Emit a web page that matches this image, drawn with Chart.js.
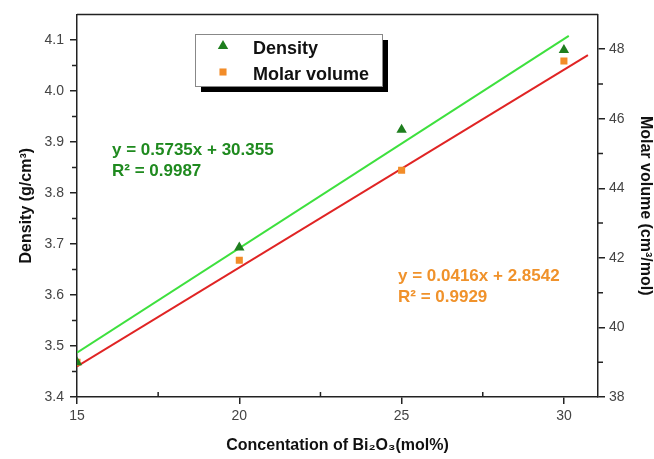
<!DOCTYPE html>
<html>
<head>
<meta charset="utf-8">
<script src="https://cdn.jsdelivr.net/npm/chart.js@4/dist/chart.umd.min.js"></script>
<style>
  html, body { margin: 0; padding: 0; background: #fff; }
</style>
</head>
<body>
<canvas id="chart" width="654" height="459"></canvas>
<script>
// 数据
var concentration = [15, 20, 25, 30];
var density = [3.468, 3.693, 3.924, 4.080];
var molarVolume = [39.0, 41.93, 44.52, 47.66];

// fit line end points
var densityFitX = [15, 30.15];
var densityFitY = [3.487, 4.108];
var molarFitX = [15, 30.74];
var molarFitY = [38.88, 47.83];

// ticks
var xTicks = [15, 20, 25, 30];
var xMinor = [17.5, 22.5, 27.5];
var densityTicks = [3.4, 3.5, 3.6, 3.7, 3.8, 3.9, 4.0, 4.1];
var densityMinor = [3.45, 3.55, 3.65, 3.75, 3.85, 3.95, 4.05];
var molarTicks = [38, 40, 42, 44, 46, 48];
var molarMinor = [39, 41, 43, 45, 47];

var legendLabels = ['Density', 'Molar volume'];
var greenEquation = ['y = 0.5735x + 30.355', 'R² = 0.9987'];
var orangeEquation = ['y = 0.0416x + 2.8542', 'R² = 0.9929'];

var FONT = "'Liberation Sans', Arial, Helvetica, sans-serif";
var AXIS = '#222';

function toXY(xs, ys) {
  return xs.map(function (x, i) { return { x: x, y: ys[i] }; });
}
function setTicks(list) {
  return function (scale) {
    scale.ticks = list.map(function (v) { return { value: v }; });
  };
}

// 额外绘制：上边框、次刻度、图例、公式
var extras = {
  id: 'extras',
  afterDraw: function (chart) {
    var ctx = chart.ctx;
    var area = chart.chartArea;
    var sx = chart.scales.x, sy = chart.scales.y, sy1 = chart.scales.y1;
    ctx.save();
    ctx.strokeStyle = AXIS;
    ctx.lineWidth = 1.5;
    // top border
    ctx.beginPath();
    ctx.moveTo(area.left, area.top);
    ctx.lineTo(area.right, area.top);
    ctx.stroke();
    // minor ticks
    ctx.beginPath();
    xMinor.forEach(function (v) {
      var px = sx.getPixelForValue(v);
      ctx.moveTo(px, area.bottom);
      ctx.lineTo(px, area.bottom - 5);
    });
    densityMinor.forEach(function (v) {
      var py = sy.getPixelForValue(v);
      ctx.moveTo(area.left, py);
      ctx.lineTo(area.left - 5, py);
    });
    molarMinor.forEach(function (v) {
      var py = sy1.getPixelForValue(v);
      ctx.moveTo(area.right, py);
      ctx.lineTo(area.right + 5, py);
    });
    ctx.stroke();

    // legend box with shadow
    var lx = 195, ly = 34, lw = 187, lh = 52;
    ctx.fillStyle = '#000';
    ctx.fillRect(lx + 6, ly + 6, lw, lh);
    ctx.fillStyle = '#fff';
    ctx.fillRect(lx, ly, lw, lh);
    ctx.strokeStyle = '#888';
    ctx.lineWidth = 1;
    ctx.strokeRect(lx + 0.5, ly + 0.5, lw, lh);

    var ds = chart.data.datasets;
    var rows = [ds[2], ds[3]];
    var rowY = [46, 72];
    rows.forEach(function (d, i) {
      ctx.fillStyle = d.backgroundColor;
      ctx.strokeStyle = d.borderColor;
      Chart.helpers.drawPoint(ctx, {
        pointStyle: d.pointStyle,
        radius: d.pointRadius,
        rotation: 0,
        borderWidth: 0
      }, 223, rowY[i]);
      ctx.fillStyle = '#111';
      ctx.font = 'bold 18px ' + FONT;
      ctx.textBaseline = 'alphabetic';
      ctx.textAlign = 'left';
      ctx.fillText(legendLabels[i], 253, rowY[i] + 8);
    });

    // equations
    ctx.font = 'bold 17px ' + FONT;
    ctx.fillStyle = '#1f8a1f';
    ctx.fillText(greenEquation[0], 112, 155);
    ctx.fillText(greenEquation[1], 112, 176);
    ctx.fillStyle = '#f0922b';
    ctx.fillText(orangeEquation[0], 398, 281);
    ctx.fillText(orangeEquation[1], 398, 302);
    ctx.restore();
  }
};

function createChart() {
  var ctx = document.getElementById('chart').getContext('2d');
  return new Chart(ctx, {
    type: 'scatter',
    data: {
      datasets: [
        {
          label: 'Density fit',
          data: toXY(densityFitX, densityFitY),
          yAxisID: 'y',
          showLine: true,
          borderColor: '#3ee03e',
          borderWidth: 2,
          pointRadius: 0,
          order: 3
        },
        {
          label: 'Molar volume fit',
          data: toXY(molarFitX, molarFitY),
          yAxisID: 'y1',
          showLine: true,
          borderColor: '#e02424',
          borderWidth: 2,
          pointRadius: 0,
          order: 2
        },
        {
          label: 'Density',
          data: toXY(concentration, density),
          yAxisID: 'y',
          pointStyle: 'triangle',
          pointRadius: 6,
          backgroundColor: '#1e7e1e',
          borderColor: '#1e7e1e',
          borderWidth: 0,
          order: 1
        },
        {
          label: 'Molar volume',
          data: toXY(concentration, molarVolume),
          yAxisID: 'y1',
          pointStyle: 'rect',
          pointRadius: 5,
          backgroundColor: '#f28c28',
          borderColor: '#f28c28',
          borderWidth: 0,
          order: 1
        }
      ]
    },
    options: {
      responsive: false,
      animation: false,
      devicePixelRatio: 1,
      layout: { padding: { top: 11, left: 0, right: 0, bottom: 0 } },
      plugins: { legend: { display: false }, tooltip: { enabled: false } },
      scales: {
        x: {
          type: 'linear',
          position: 'bottom',
          min: 15,
          max: 31.05,
          afterBuildTicks: setTicks(xTicks),
          afterFit: function (s) { s.height = 62; },
          grid: { drawOnChartArea: false, tickLength: 7, color: AXIS, lineWidth: 1.5 },
          border: { color: AXIS, width: 1.5 },
          ticks: { color: '#444', padding: 4, maxRotation: 0, font: { family: FONT, size: 14 } },
          title: {
            display: true,
            text: 'Concentation of Bi₂O₃(mol%)',
            color: '#111',
            font: { family: FONT, size: 16, weight: 'bold', lineHeight: 1 },
            padding: { top: 0, bottom: 5 }
          }
        },
        y: {
          type: 'linear',
          position: 'left',
          min: 3.4,
          max: 4.15,
          afterBuildTicks: setTicks(densityTicks),
          afterFit: function (s) { s.width = 77; },
          grid: { drawOnChartArea: false, tickLength: 7, color: AXIS, lineWidth: 1.5 },
          border: { color: AXIS, width: 1.5 },
          ticks: {
            color: '#444', padding: 6, font: { family: FONT, size: 14 },
            callback: function (v) { return v.toFixed(1); }
          },
          title: {
            display: true,
            text: 'Density (g/cm³)',
            color: '#111',
            font: { family: FONT, size: 16, weight: 'bold', lineHeight: 1 },
            padding: { top: 19, bottom: 0 }
          }
        },
        y1: {
          type: 'linear',
          position: 'right',
          min: 38,
          max: 49,
          afterBuildTicks: setTicks(molarTicks),
          afterFit: function (s) { s.width = 56; },
          grid: { drawOnChartArea: false, tickLength: 7, color: AXIS, lineWidth: 1.5 },
          border: { color: AXIS, width: 1.5 },
          ticks: { color: '#444', padding: 4, font: { family: FONT, size: 14 } },
          title: {
            display: true,
            text: 'Molar volume (cm³/mol)',
            color: '#111',
            font: { family: FONT, size: 16, weight: 'bold', lineHeight: 1 },
            padding: { top: 1, bottom: 0 }
          }
        }
      }
    },
    plugins: [extras]
  });
}

var chart = createChart();
</script>
</body>
</html>
